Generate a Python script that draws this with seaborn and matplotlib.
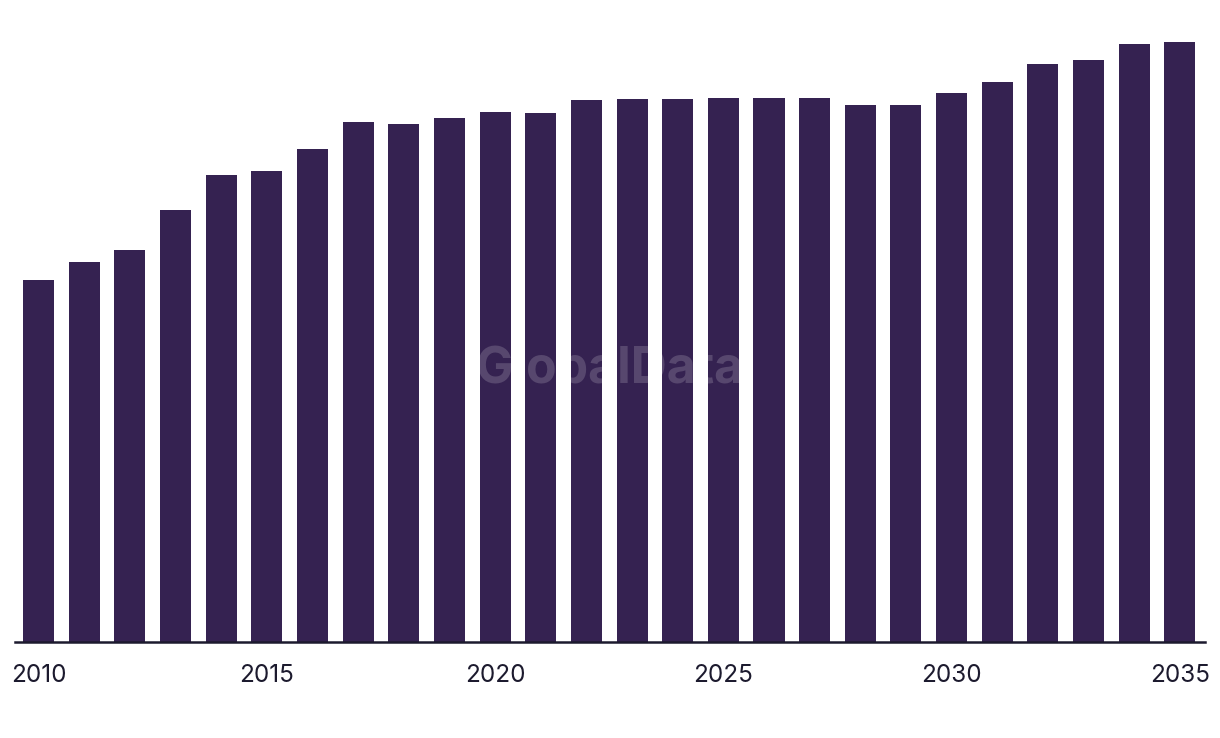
import matplotlib
matplotlib.use("Agg")
import matplotlib.pyplot as plt
import seaborn as sns
import pandas as pd

years = list(range(2010, 2036))
values = [361, 379, 391, 431, 466, 470, 492, 519, 517, 523, 529, 528, 541,
          542, 542, 543, 543, 543, 536, 536, 548, 559, 577, 581, 597, 599]
tick_years = [2010, 2015, 2020, 2025, 2030, 2035]

sns.set_theme(style="white")
plt.rcParams['font.family'] = ['Inter', 'DejaVu Sans']

df = pd.DataFrame({"year": years, "value": values})

fig = plt.figure(figsize=(12.2, 7.38), dpi=100)
ax = fig.add_axes([15 / 1220, 96.5 / 738, 1190 / 1220, 641.5 / 738])

sns.barplot(data=df, x="year", y="value", color="#352251", saturation=1,
            width=0.68, ax=ax, order=years, linewidth=0, edgecolor="none")

ax.set_xlim(-0.515, 25.55)
ax.set_ylim(0, 640.5)
ax.set_xlabel("")
ax.set_ylabel("")
ax.set_yticks([])
idx = [years.index(y) for y in tick_years]
ax.set_xticks(idx)
ax.set_xticklabels([str(y) for y in tick_years], fontsize=17.5, color="#1c1a2e")
ax.tick_params(axis="x", length=0, pad=16)
for s in ["top", "right", "left"]:
    ax.spines[s].set_visible(False)
ax.spines["bottom"].set_color("#1c1a2e")
ax.spines["bottom"].set_linewidth(1.8)

fig.text(610 / 1220, 1 - 370 / 738, "GlobalData", ha="center", va="center",
         fontsize=36, fontweight="bold", color="white", alpha=0.17,
         family=['Inter', 'DejaVu Sans'])

fig.savefig("out.png", dpi=100)
